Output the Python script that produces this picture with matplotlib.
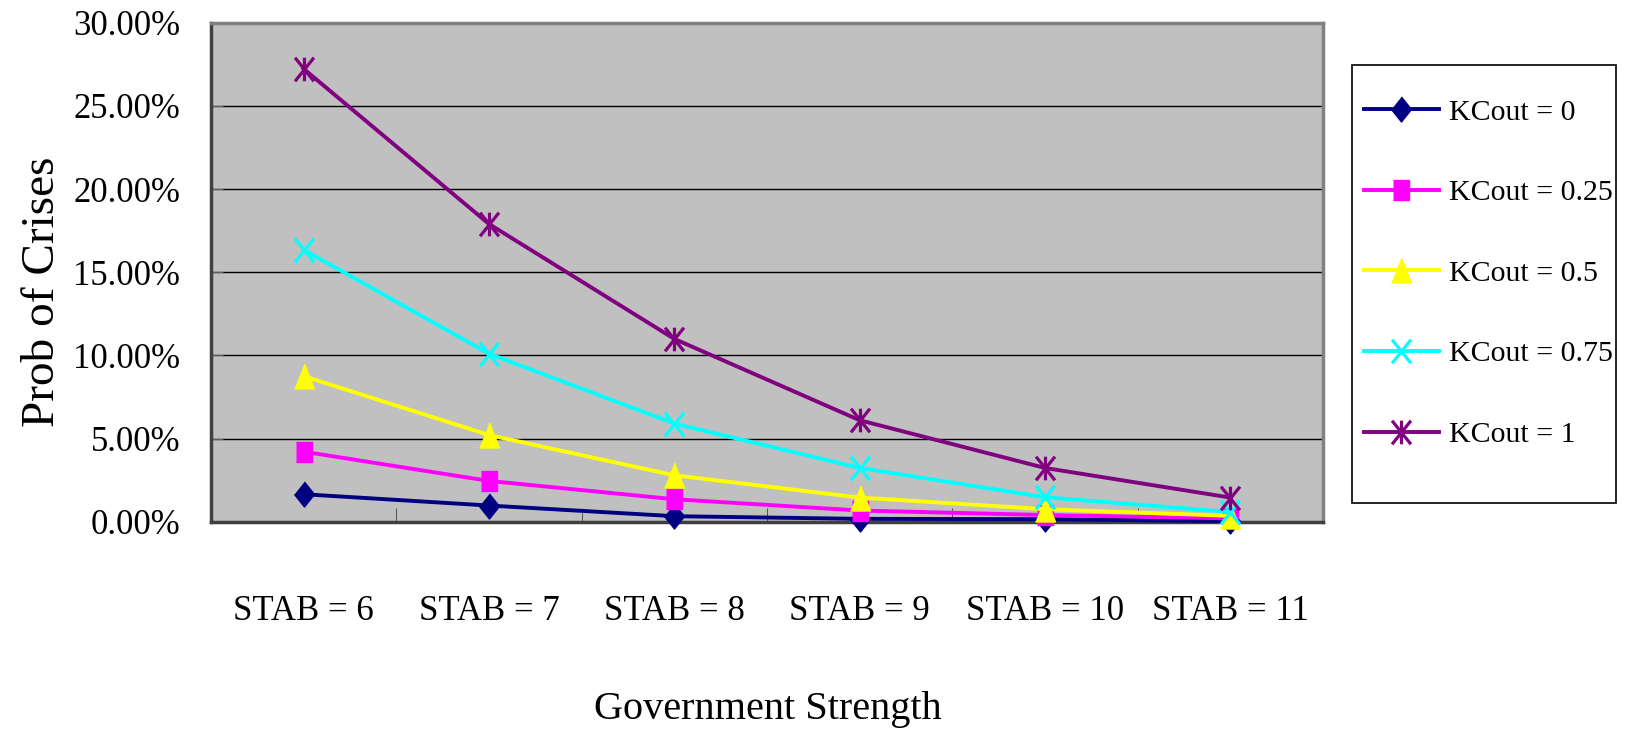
import matplotlib
matplotlib.use('Agg')
import matplotlib.pyplot as plt
from matplotlib.path import Path
from matplotlib.patches import Rectangle
from matplotlib.ticker import PercentFormatter

stab_labels = ['STAB = 6', 'STAB = 7', 'STAB = 8', 'STAB = 9', 'STAB = 10', 'STAB = 11']
kcout_labels = ['KCout = 0', 'KCout = 0.25', 'KCout = 0.5', 'KCout = 0.75', 'KCout = 1']

# probability of crises per government strength level
prob_kc0 = [0.0165, 0.0097, 0.0033, 0.0017, 0.0015, 0.0003]
prob_kc025 = [0.0421, 0.0245, 0.0135, 0.0067, 0.0040, 0.0020]
prob_kc05 = [0.0875, 0.0521, 0.0279, 0.0145, 0.0075, 0.0035]
prob_kc075 = [0.1635, 0.1010, 0.0590, 0.0323, 0.0147, 0.0058]
prob_kc1 = [0.2723, 0.1790, 0.1099, 0.0610, 0.0323, 0.0145]

series = [prob_kc0, prob_kc025, prob_kc05, prob_kc075, prob_kc1]
colors = ['#000080', '#FF00FF', '#FFFF00', '#00FFFF', '#800080']

# excel-like markers, a bit taller than wide
M, L = Path.MOVETO, Path.LINETO
diamond = [(0, 1), (0.8, 0), (0, -1), (-0.8, 0)]
square = [(-0.76, -1), (0.76, -1), (0.76, 1), (-0.76, 1)]
triangle = [(0, 1), (0.8, -1), (-0.8, -1)]
cross = Path([(-0.8, -1), (0.8, 1), (-0.8, 1), (0.8, -1)], [M, L, M, L])
star = Path([(0, -1), (0, 1), (-0.8, -1), (0.8, 1), (-0.8, 1), (0.8, -1)],
            [M, L, M, L, M, L])
markers = [diamond, square, triangle, cross, star]
msizes = [18, 15, 18, 17, 17]
filled = [True, True, True, False, False]

plt.rcParams['font.family'] = 'Liberation Serif'

fig = plt.figure(figsize=(16.44, 7.36), dpi=100)
ax = fig.add_axes([0.1283, 0.2912, 0.6764, 0.678])
ax.set_facecolor('#C0C0C0')

x = list(range(len(stab_labels)))
for vals, lab, col, mk, ms, fl in zip(series, kcout_labels, colors, markers, msizes, filled):
    if fl:
        ax.plot(x, vals, color=col, lw=2.8, marker=mk, markersize=ms,
                markerfacecolor=col, markeredgecolor=col, markeredgewidth=1,
                label=lab, clip_on=False, zorder=3)
    else:
        ax.plot(x, vals, color=col, lw=2.8, marker=mk, markersize=ms,
                markerfacecolor='none', markeredgecolor=col, markeredgewidth=2.3,
                label=lab, clip_on=False, zorder=3)

ax.set_xlim(-0.5, len(stab_labels) - 0.5)
ax.set_ylim(0, 0.30)
ax.set_yticks([0, 0.05, 0.10, 0.15, 0.20, 0.25, 0.30])
ax.yaxis.set_major_formatter(PercentFormatter(1.0, decimals=2))
ax.yaxis.grid(True, color='black', lw=1)
ax.set_axisbelow(True)

ax.set_xticks(x, stab_labels)
ax.set_xticks([i + 0.5 for i in x[:-1]], minor=True)
ax.tick_params(axis='x', which='major', length=0, pad=53, labelsize=25)
ax.tick_params(axis='x', which='minor', direction='in', length=10, color='#404040')
ax.tick_params(axis='y', direction='in', length=8.5, color='#606060', pad=22, labelsize=25)

for side in ['top', 'right']:
    ax.spines[side].set_color('#808080')
    ax.spines[side].set_linewidth(2.5)
for side in ['left', 'bottom']:
    ax.spines[side].set_color('#404040')
    ax.spines[side].set_linewidth(2.5)

ax.set_ylabel('Prob of Crises', fontsize=34, va='center')
ax.yaxis.set_label_coords(-0.1515, 0.46)
ax.set_xlabel('Government Strength', fontsize=29, va='center')
ax.xaxis.set_label_coords(0.5009, -0.3755)

# legend box drawn separately so its padding can be set freely
fig.add_artist(Rectangle((0.8224, 0.3166), 0.1605, 0.595, transform=fig.transFigure,
                         facecolor='white', edgecolor='black', lw=1.2))
fig.legend(loc='upper left', bbox_to_anchor=(0.8297, 0.866), frameon=False,
           fontsize=21.5, handlelength=2.5, handletextpad=0.34, labelspacing=1.8,
           borderpad=0, borderaxespad=0)

fig.savefig('out.png', dpi=100)
